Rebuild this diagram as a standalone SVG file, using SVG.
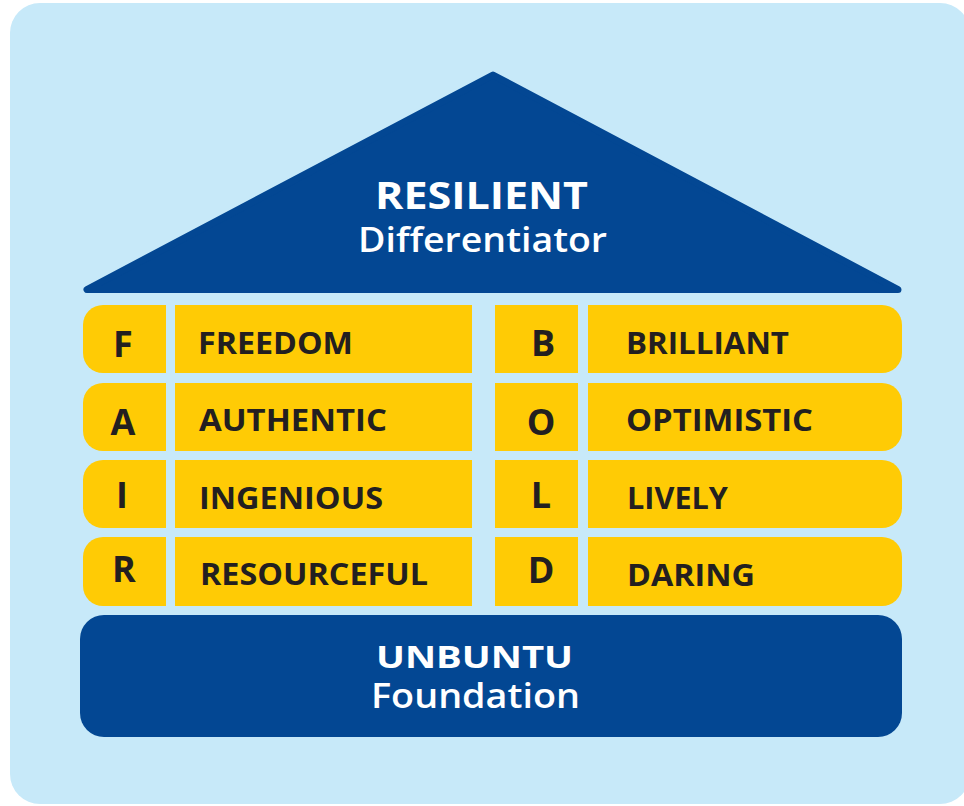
<svg xmlns="http://www.w3.org/2000/svg" width="964" height="806" viewBox="0 0 964 806">
  <style>
    .panel { fill: #c7e9f9; }
    .navy { fill: #034793; }
    .gold { fill: #ffcb05; }
    .head { font-family: "Open Sans", "Noto Sans", sans-serif; fill: #ffffff; text-anchor: start; }
    .b { font-weight: 700; }
    .r { font-weight: 600; }
    .ini { font-family: "Open Sans", "Noto Sans", sans-serif; font-weight: 700; font-size: 36px; fill: #231f20; text-anchor: middle; }
    .word { font-family: "Open Sans", "Noto Sans", sans-serif; font-weight: 700; font-size: 31px; fill: #231f20; }
  </style>

  <rect width="964" height="806" fill="#ffffff"/>
  <!-- backing panel -->
  <rect class="panel" x="10" y="3" width="960" height="801" rx="30"/>

  <!-- roof -->
  <g id="roof">
    <polygon class="navy" points="87,289.5 898,289.5 493,75" stroke="#034793" stroke-width="7" stroke-linejoin="round"/>
    <text class="head b" x="375" y="209" font-size="37" textLength="213" lengthAdjust="spacingAndGlyphs">RESILIENT</text>
    <text class="head r" x="358" y="252" font-size="34" textLength="249" lengthAdjust="spacingAndGlyphs">Differentiator</text>
  </g>

  <!-- FAIR column -->
  <g id="row-f">
    <path class="gold" d="M103,305 H166 V373 H103 A20,20 0 0 1 83,353 V325 A20,20 0 0 1 103,305 Z"/>
    <rect class="gold" x="175" y="305" width="297" height="68"/>
    <text class="ini" x="123" y="357">F</text>
    <text class="word" x="198" y="354" textLength="155" lengthAdjust="spacingAndGlyphs">FREEDOM</text>
  </g>
  <g id="row-a">
    <path class="gold" d="M103,383 H166 V451 H103 A20,20 0 0 1 83,431 V403 A20,20 0 0 1 103,383 Z"/>
    <rect class="gold" x="175" y="383" width="297" height="68"/>
    <text class="ini" x="123" y="435">A</text>
    <text class="word" x="199" y="431" textLength="188" lengthAdjust="spacingAndGlyphs">AUTHENTIC</text>
  </g>
  <g id="row-i">
    <path class="gold" d="M103,460 H166 V528 H103 A20,20 0 0 1 83,508 V480 A20,20 0 0 1 103,460 Z"/>
    <rect class="gold" x="175" y="460" width="297" height="68"/>
    <text class="ini" x="122" y="508">I</text>
    <text class="word" x="199" y="509" textLength="184" lengthAdjust="spacingAndGlyphs">INGENIOUS</text>
  </g>
  <g id="row-r">
    <path class="gold" d="M103,537 H166 V606 H103 A20,20 0 0 1 83,586 V557 A20,20 0 0 1 103,537 Z"/>
    <rect class="gold" x="175" y="537" width="297" height="69"/>
    <text class="ini" x="124" y="582">R</text>
    <text class="word" x="200" y="585" textLength="228" lengthAdjust="spacingAndGlyphs">RESOURCEFUL</text>
  </g>

  <!-- BOLD column -->
  <g id="row-b">
    <rect class="gold" x="495" y="305" width="83" height="68"/>
    <path class="gold" d="M588,305 H882 A20,20 0 0 1 902,325 V353 A20,20 0 0 1 882,373 H588 Z"/>
    <text class="ini" x="543" y="356">B</text>
    <text class="word" x="626" y="354" textLength="163" lengthAdjust="spacingAndGlyphs">BRILLIANT</text>
  </g>
  <g id="row-o">
    <rect class="gold" x="495" y="383" width="83" height="68"/>
    <path class="gold" d="M588,383 H882 A20,20 0 0 1 902,403 V431 A20,20 0 0 1 882,451 H588 Z"/>
    <text class="ini" x="541" y="435">O</text>
    <text class="word" x="626" y="431" textLength="187" lengthAdjust="spacingAndGlyphs">OPTIMISTIC</text>
  </g>
  <g id="row-l">
    <rect class="gold" x="495" y="460" width="83" height="68"/>
    <path class="gold" d="M588,460 H882 A20,20 0 0 1 902,480 V508 A20,20 0 0 1 882,528 H588 Z"/>
    <text class="ini" x="541" y="508">L</text>
    <text class="word" x="627" y="509" textLength="101" lengthAdjust="spacingAndGlyphs">LIVELY</text>
  </g>
  <g id="row-d">
    <rect class="gold" x="495" y="537" width="83" height="69"/>
    <path class="gold" d="M588,537 H882 A20,20 0 0 1 902,557 V586 A20,20 0 0 1 882,606 H588 Z"/>
    <text class="ini" x="541" y="583">D</text>
    <text class="word" x="627" y="586" textLength="128" lengthAdjust="spacingAndGlyphs">DARING</text>
  </g>

  <!-- foundation -->
  <g id="foundation">
    <rect class="navy" x="80" y="615" width="822" height="122" rx="24"/>
    <text class="head b" x="376" y="668" font-size="31" textLength="197" lengthAdjust="spacingAndGlyphs">UNBUNTU</text>
    <text class="head r" x="371" y="708" font-size="34" textLength="209" lengthAdjust="spacingAndGlyphs">Foundation</text>
  </g>

  <g id="connectors"/>
</svg>
